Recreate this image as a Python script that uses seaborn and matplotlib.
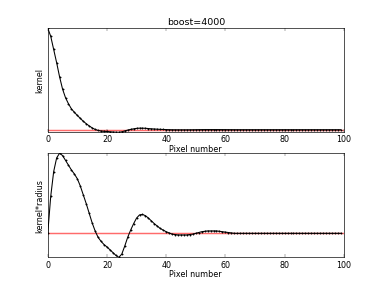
import numpy as np
import pandas as pd
import seaborn as sns
import matplotlib.pyplot as plt

# pixel number (radius) 0..99
radius = list(range(100))

# kernel (peak normalised to 1)
kernel = [1.0, 0.92, 0.79, 0.66, 0.52, 0.40, 0.315, 0.255, 0.205, 0.171,
          0.14, 0.1115, 0.083, 0.059, 0.037, 0.018, 0.0026, -0.0073, -0.0127, -0.0153,
          -0.0177, -0.0203, -0.0227, -0.0249, -0.026, -0.0208, -0.012, -0.0039, 0.003, 0.0086,
          0.0132, 0.0154, 0.0153, 0.0139, 0.0113, 0.0089, 0.0069, 0.0051, 0.0033, 0.0021,
          0.001, 0.0003, -0.0005, -0.0007, -0.0009, -0.0009, -0.0009, -0.0009, -0.0007, -0.0004,
          0.0, 0.0004, 0.0008, 0.001, 0.0011, 0.0011, 0.0011, 0.0011, 0.0009, 0.0007,
          0.0005, 0.0003, 0.0002, 0.0, 0.0, 0.0, 0.0, 0.0, 0.0, 0.0] + [0.0] * 30

# kernel*radius (peak normalised to 1)
kernel_radius = [0.0, 0.46, 0.77, 0.94, 1.0, 0.97, 0.91, 0.85, 0.79, 0.74,
                 0.68, 0.59, 0.48, 0.37, 0.25, 0.13, 0.03, -0.05, -0.10, -0.14,
                 -0.17, -0.205, -0.24, -0.275, -0.30, -0.26, -0.16, -0.05, 0.04, 0.12,
                 0.19, 0.23, 0.235, 0.22, 0.19, 0.155, 0.12, 0.09, 0.06, 0.04,
                 0.02, 0.005, -0.01, -0.015, -0.02, -0.02, -0.02, -0.02, -0.015, -0.01,
                 0.0, 0.01, 0.02, 0.025, 0.03, 0.03, 0.03, 0.03, 0.025, 0.02,
                 0.015, 0.01, 0.005, 0.0, 0.0, 0.0, 0.0, 0.0, 0.0, 0.0] + [0.0] * 30

xticks = [0, 20, 40, 60, 80, 100]

plt.style.use('classic')
df = pd.DataFrame({'radius': radius, 'kernel': kernel, 'kernel_radius': kernel_radius})

fig, (ax_k, ax_kr) = plt.subplots(2, 1, figsize=(8, 6), dpi=47.75)
fig.patch.set_facecolor('white')

for ax, col, lab in [(ax_k, 'kernel', 'kernel'), (ax_kr, 'kernel_radius', 'kernel*radius')]:
    ax.axhline(0, color='#ff6b6b', lw=2.2, zorder=1)
    sns.lineplot(data=df, x='radius', y=col, color='k', marker='.', markersize=4,
                 markeredgecolor='k', lw=1.6, ax=ax, zorder=2)
    ax.set_xlim(0, 100)
    ax.set_ylim(df[col].min(), df[col].max())
    ax.set_xticks(xticks)
    ax.set_yticks([])
    ax.set_xlabel('Pixel number', labelpad=1)
    ax.set_ylabel(lab)

ax_k.set_title('boost=4000')

fig.savefig('out.png', dpi=47.75, facecolor='white')
